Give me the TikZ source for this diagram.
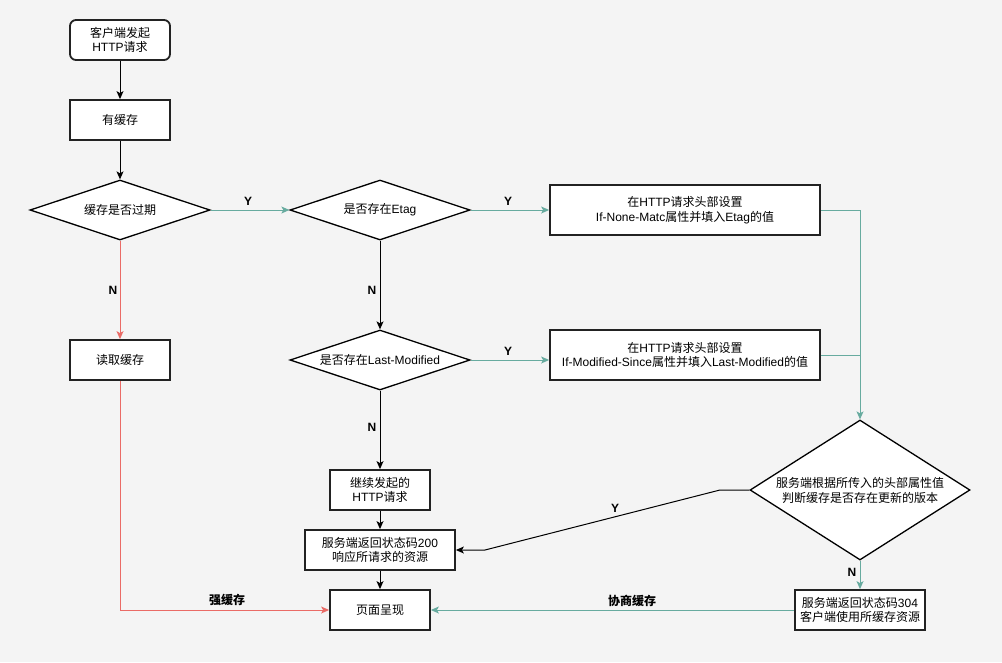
\documentclass[tikz,border=0pt]{standalone}
\usepackage{fontspec}
\setmainfont{Liberation Sans}
\newfontfamily\cjkf{Noto Sans CJK SC}
\usetikzlibrary{shapes.geometric,arrows.meta}
\newcommand\zh[1]{{\cjkf #1}}
\definecolor{bg}{HTML}{F4F4F4}
\definecolor{grn}{HTML}{67AB9F}
\definecolor{rd}{HTML}{EA6B66}
\definecolor{bord}{HTML}{222222}
\begin{document}
\begin{tikzpicture}[x=1pt,y=-1pt,
  font=\fontsize{12}{14.5}\selectfont,
  box/.style={rectangle, draw=bord, line width=1.8pt, fill=white, inner sep=0pt, align=center},
  dia/.style={diamond, draw=black, line width=1.3pt, fill=white, inner sep=0pt},
  dtext/.style={align=center, inner sep=0pt},
  arr/.style={line width=1pt, -{Stealth[length=8pt,width=7pt,inset=2pt]}},
  plain/.style={line width=1pt},
  lab/.style={font=\fontsize{12}{14}\selectfont\bfseries, inner sep=0pt}
]
\fill[bg] (0,0) rectangle (1002,662);
\useasboundingbox (0,0) rectangle (1002,662);

% nodes
\node[box, rounded corners=6pt, minimum width=100pt, minimum height=40pt] (start) at (120,40) {\zh{客户端发起}\\HTTP\zh{请求}};
\node[box, minimum width=100pt, minimum height=40pt] (has) at (120,120) {\zh{有缓存}};
\node[dia, minimum width=180pt, minimum height=60pt] (d1) at (120,210) {};
\node[dtext] (d1t) at (d1) {\zh{缓存是否过期}};
\node[dia, minimum width=180pt, minimum height=60pt] (d2) at (380,210) {};
\node[dtext] (d2t) at (d2) {\zh{是否存在}Etag};
\node[box, minimum width=270pt, minimum height=50pt] (b1) at (685,210) {\zh{在}HTTP\zh{请求头部设置}\\If-None-Matc\zh{属性并填入}Etag\zh{的值}};
\node[dia, minimum width=180pt, minimum height=60pt] (d3) at (380,360) {};
\node[dtext] (d3t) at (d3) {\zh{是否存在}Last-Modified};
\node[box, minimum width=270pt, minimum height=50pt] (b2) at (685,355) {\zh{在}HTTP\zh{请求头部设置}\\If-Modified-Since\zh{属性并填入}Last-Modified\zh{的值}};
\node[box, minimum width=100pt, minimum height=40pt] (rc) at (120,360) {\zh{读取缓存}};
\node[box, minimum width=100pt, minimum height=40pt] (cont) at (380,490) {\zh{继续发起的}\\HTTP\zh{请求}};
\node[box, minimum width=150pt, minimum height=40pt] (s200) at (380,550) {\zh{服务端返回状态码}200\\\zh{响应所请求的资源}};
\node[box, minimum width=100pt, minimum height=40pt] (page) at (380,610) {\zh{页面呈现}};
\node[dia, minimum width=220pt, minimum height=140pt] (dbig) at (860,490) {};
\node[dtext, font=\fontsize{12}{15}\selectfont] (dbigt) at (dbig) {\zh{服务端根据所传入的头部属性值}\\\zh{判断缓存是否存在更新的版本}};
\node[box, minimum width=130pt, minimum height=40pt] (s304) at (860,610) {\zh{服务端返回状态码}304\\\zh{客户端使用所缓存资源}};

\coordinate (k1) at (720,490);
\coordinate (k2) at (485,550);

% connectors
\draw[arr] (start) -- (has);
\draw[arr] (has) -- (d1);
\draw[arr, grn] (d1.east) -- (d2.west);
\draw[arr, grn] (d2.east) -- (b1.west);
\draw[arr, grn] (b1.east) -| (dbig.north);
\draw[plain, grn] (b2.east) -- (b2.east -| dbig.north);
\draw[arr] (d2.south) -- (d3.north);
\draw[arr, grn] (d3.east) -- (d3.east -| b2.west);
\draw[arr] (d3.south) -- (cont.north);
\draw[arr] (cont) -- (s200);
\draw[arr] (s200) -- (page);
\draw[arr, rd] (d1.south) -- (rc.north);
\draw[arr, rd] (rc.south) |- (page.west);
\draw[arr] (dbig.west) -- (k1) -- (k2) -- (s200.east);
\draw[arr, grn] (dbig.south) -- (s304.north);
\draw[arr, grn] (s304.west) -- (page.east);

% labels
\node[lab] (ly1) at (248,201) {Y};
\node[lab] (ly2) at (508,201) {Y};
\node[lab] (ln1) at (372,290) {N};
\node[lab] (ly3) at (508,351) {Y};
\node[lab] (ln2) at (372,427) {N};
\node[lab] (ln3) at (113,290) {N};
\node[lab] (ly4) at (615,508) {Y};
\node[lab] (ln4) at (852,572) {N};
\node[lab] (lq) at (227,600) {\zh{强缓存}};
\node[lab] (lx) at (632,601) {\zh{协商缓存}};
\end{tikzpicture}
\end{document}
